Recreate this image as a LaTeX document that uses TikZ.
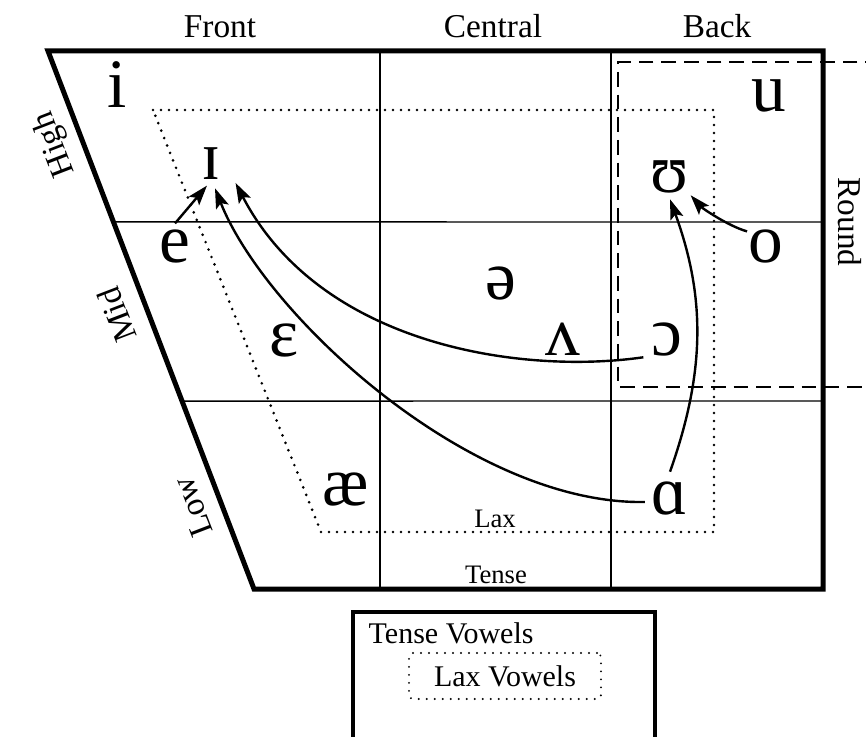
\documentclass[tikz,border=0pt]{standalone}
\usepackage{fontspec}
\setmainfont{Liberation Serif}
\usetikzlibrary{arrows.meta,calc}

\tikzset{
  outline/.style={line width=3.75pt},
  cellline/.style={line width=1.1pt},
  laxline/.style={line width=2.2pt, line cap=round, dash pattern=on 0pt off 6pt},
  roundline/.style={line width=1.9pt, dash pattern=on 11pt off 6pt},
  vowel/.style={font=\fontsize{52}{56}\selectfont, inner sep=1pt, anchor=base},
  axislabel/.style={font=\fontsize{25}{29}\selectfont, anchor=base, inner sep=1pt},
  regionlabel/.style={font=\fontsize{20}{24}\selectfont, anchor=base},
  keylabel/.style={font=\fontsize{22.5}{26}\selectfont},
  shiftarrow/.style={-{Stealth[length=15pt,width=10pt,inset=3pt]}, line width=1.8pt}
}

\begin{document}
\begin{tikzpicture}[x=0.75pt, y=-0.75pt]
    \useasboundingbox (0,0) rectangle (866,737);

    % Chart outline
    \coordinate (tl) at (48,51);
    \coordinate (tr) at (823,51);
    \coordinate (br) at (823,589);
    \coordinate (bl) at (254,589);
    \draw[cellline] (380,51) -- (380,589);
    \draw[cellline] (611,51) -- (611,589);
    \draw[cellline] ($(tl)!0.3178!(bl)$) -- (823,222);
    \draw[cellline] ($(tl)!0.6506!(bl)$) -- (823,401);
    \draw[outline] (tl) -- (tr) -- (br) -- (bl) -- cycle;

    % Lax and round regions
    \draw[laxline] (153,110) -- (714,110) -- (714,532) -- (321,532) -- cycle;
    \draw[roundline] (880,62) -- (618,62) -- (618,387) -- (880,387);

    % Axis labels
    \node[axislabel] (front) at (220,38) {Front};
    \node[axislabel] (central) at (493,38) {Central};
    \node[axislabel] (back) at (717,38) {Back};
    \node[axislabel, anchor=center, rotate=-90] (round) at (850,222) {Round};
    \node[axislabel, anchor=center, rotate=111] (high) at (55,144) {High};
    \node[axislabel, anchor=center, rotate=111] (mid) at (117,315) {Mid};
    \node[axislabel, anchor=center, rotate=111] (low) at (193,507) {Low};
    \node[regionlabel] (laxlbl) at (495,527) {Lax};
    \node[regionlabel] (tenselbl) at (496,583) {Tense};

    % Vowels
    \node[vowel] (vi) at (117,108) {i};
    \node[vowel] (vu) at (769,112) {u};
    \node[vowel] (vI) at (211,180) {ɪ};
    \node[vowel] (vU) at (670,193) {ʊ};
    \node[vowel] (ve) at (175,263) {e};
    \node[vowel] (vo) at (766,263) {o};
    \node[vowel] (vschwa) at (501,300) {ə};
    \node[vowel] (veps) at (284,357) {ɛ};
    \node[vowel] (vwedge) at (563,355) {ʌ};
    \node[vowel] (vopen) at (667,355) {ɔ};
    \node[vowel] (vae) at (346,505) {æ};
    \node[vowel] (vA) at (670,514) {ɑ};

    % Shifts
    \draw[shiftarrow] ([yshift=4pt]ve.north) -- ([xshift=-3pt,yshift=-3pt]vI.south);
    \draw[shiftarrow] ([xshift=-4pt,yshift=-3pt]vA.west)
        .. controls (470,505) and (265,315) .. ([xshift=3pt,yshift=-5pt]vI.south);
    \draw[shiftarrow] ([xshift=-5pt]vopen.south west)
        .. controls (520,375) and (320,345) .. ([xshift=10pt,yshift=-1pt]vI.south east);
    \draw[shiftarrow] ([yshift=6pt]vA.north)
        .. controls (705,373) and (706,298) .. ([yshift=-3pt]vU.south);
    \draw[shiftarrow] ([yshift=-2pt]vo.north west)
        .. controls (728,226) and (702,208) .. (vU.south east);

    % Key
    \draw[outline, line width=3.4pt] (353,612) rectangle (655,760);
    \node[keylabel, anchor=base west] (tensekey) at (364,643) {Tense Vowels};
    \node[keylabel, laxline, draw, line width=1.6pt, rounded corners=3pt,
          minimum width=144pt, minimum height=34.5pt] (laxkey) at (505,676) {Lax Vowels};
\end{tikzpicture}
\end{document}
